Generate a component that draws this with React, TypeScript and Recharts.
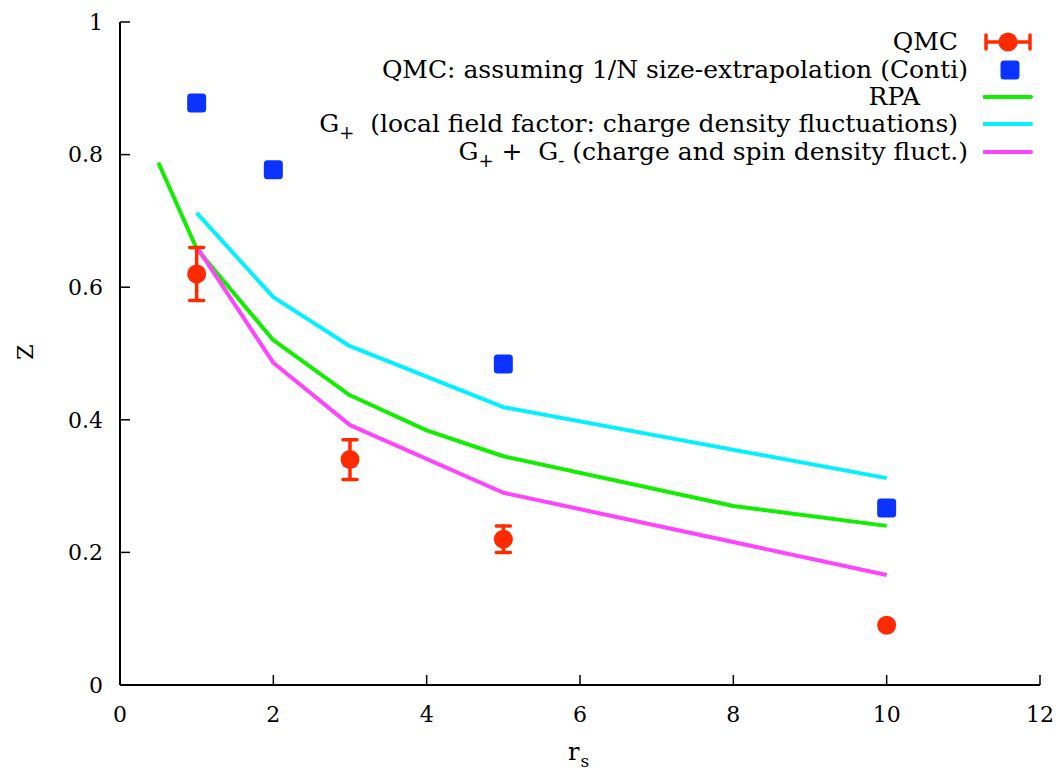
import React from 'react';
import { ComposedChart, Line, Scatter, XAxis, YAxis, ErrorBar } from 'recharts';

const xTicks = [0, 2, 4, 6, 8, 10, 12];
const yTicks = [0, 0.2, 0.4, 0.6, 0.8, 1];

const rpaX = [0.5, 1, 2, 3, 4, 5, 8, 10];
const rpaY = [0.788, 0.658, 0.52, 0.437, 0.384, 0.345, 0.27, 0.24];

const gPlusX = [1, 2, 3, 5, 10];
const gPlusY = [0.712, 0.585, 0.511, 0.419, 0.312];

const gPMX = [1, 2, 3, 5, 10];
const gPMY = [0.661, 0.486, 0.392, 0.29, 0.166];

const qmcX = [1, 3, 5, 10];
const qmcY = [0.62, 0.34, 0.22, 0.09];
const qmcErr = [0.04, 0.03, 0.02, 0];

const contiX = [1, 2, 5, 10];
const contiY = [0.878, 0.777, 0.484, 0.267];

const legendLabels = [
  'QMC',
  'QMC: assuming 1/N size-extrapolation (Conti)',
  'RPA',
  'G+ (local field factor: charge density fluctuations)',
  'G+ + G- (charge and spin density fluct.)',
];

const RED = '#ff2a00';
const BLUE = '#0b33ff';
const GREEN = '#11ee00';
const CYAN = '#00f2ff';
const MAGENTA = '#ff44ff';

const toPts = (xs: number[], ys: number[]) => xs.map((x, i) => ({ x, y: ys[i] }));

const rpaData = toPts(rpaX, rpaY);
const gPlusData = toPts(gPlusX, gPlusY);
const gPMData = toPts(gPMX, gPMY);
const qmcData = qmcX.map((x, i) => ({ x, y: qmcY[i], err: qmcErr[i] }));
const contiData = toPts(contiX, contiY);

const FONT = "'DejaVu Serif', serif";

const Dot = (p: any) => <circle cx={p.cx} cy={p.cy} r={9.5} fill={RED} />;
const Sq = (p: any) => (
  <rect x={p.cx - 9.5} y={p.cy - 9.5} width={19} height={19} rx={3.5} fill={BLUE} />
);

const Gsub = ({ s }: { s: string }) => (
  <span>
    G<sub style={{ fontSize: 18, verticalAlign: '-7px' }}>{s}</sub>
  </span>
);

const renderLabel = (i: number) => {
  if (i === 3)
    return (
      <>
        <Gsub s="+" />
        {'\u00a0\u00a0(local field factor: charge density fluctuations)'}
      </>
    );
  if (i === 4)
    return (
      <>
        <Gsub s="+" />
        {'\u00a0+\u00a0\u00a0'}
        <Gsub s="-" />
        {'\u00a0(charge and spin density fluct.)'}
      </>
    );
  return legendLabels[i];
};

const rowCY = [42, 70, 97, 124, 152];
const rowRight = [958, 968, 920, 958, 968];

const Symbol = ({ i }: { i: number }) => {
  const w = 52;
  const h = 28;
  const c = h / 2;
  if (i === 0)
    return (
      <svg width={w} height={h}>
        <line x1={3} y1={c} x2={47} y2={c} stroke={RED} strokeWidth={3.5} />
        <line x1={3} y1={c - 7} x2={3} y2={c + 7} stroke={RED} strokeWidth={3.5} strokeLinecap="round" />
        <line x1={47} y1={c - 7} x2={47} y2={c + 7} stroke={RED} strokeWidth={3.5} strokeLinecap="round" />
        <circle cx={25} cy={c} r={9.5} fill={RED} />
      </svg>
    );
  if (i === 1)
    return (
      <svg width={w} height={h}>
        <rect x={27 - 9.5} y={c - 9.5} width={19} height={19} rx={3.5} fill={BLUE} />
      </svg>
    );
  const col = [GREEN, CYAN, MAGENTA][i - 2];
  return (
    <svg width={w} height={h}>
      <line x1={1} y1={c} x2={48} y2={c} stroke={col} strokeWidth={4} strokeLinecap="round" />
    </svg>
  );
};

export default function App() {
  const W = 1056;
  const H = 771;
  return (
    <div style={{ position: 'absolute', left: 0, top: 0, width: W, height: H, background: '#fff', overflow: 'hidden' }}>
      <ComposedChart
        width={W}
        height={H}
        margin={{ top: 22, right: 16, bottom: 0, left: 0 }}
      >
        <XAxis
          dataKey="x"
          type="number"
          domain={[0, 12]}
          ticks={xTicks}
          interval={0}
          allowDataOverflow
          height={86}
          tickSize={-10}
          tickMargin={31}
          axisLine={{ stroke: '#000', strokeWidth: 2 }}
          tickLine={{ stroke: '#000', strokeWidth: 1.5 }}
          tick={{ fill: '#000', fontSize: 22, fontFamily: FONT }}
          label={{
            content: () => (
              <text x={568} y={760} fontFamily={FONT} fontSize={24} fill="#000">
                r
                <tspan dx={1} dy={7} fontSize={17}>
                  s
                </tspan>
              </text>
            ),
          }}
        />
        <YAxis
          type="number"
          domain={[0, 1]}
          ticks={yTicks}
          interval={0}
          width={120}
          tickSize={-10}
          tickMargin={27}
          axisLine={{ stroke: '#000', strokeWidth: 2 }}
          tickLine={{ stroke: '#000', strokeWidth: 1.5 }}
          tick={{ fill: '#000', fontSize: 22, fontFamily: FONT }}
          label={{
            content: () => (
              <text
                x={33}
                y={352}
                transform="rotate(-90 33 352)"
                textAnchor="middle"
                fontFamily={FONT}
                fontSize={22}
                fill="#000"
              >
                Z
              </text>
            ),
          }}
        />
        <Line data={rpaData} dataKey="y" type="linear" stroke={GREEN} strokeWidth={4} dot={false} isAnimationActive={false} strokeLinejoin="round" />
        <Line data={gPlusData} dataKey="y" type="linear" stroke={CYAN} strokeWidth={4} dot={false} isAnimationActive={false} strokeLinejoin="round" />
        <Line data={gPMData} dataKey="y" type="linear" stroke={MAGENTA} strokeWidth={4} dot={false} isAnimationActive={false} strokeLinejoin="round" />
        <Scatter data={contiData} dataKey="y" fill={BLUE} shape={Sq} isAnimationActive={false} />
        <Scatter data={qmcData} dataKey="y" fill={RED} shape={Dot} isAnimationActive={false}>
          <ErrorBar dataKey="err" direction="y" width={7} stroke={RED} strokeWidth={3.5} strokeLinecap="round" />
        </Scatter>
      </ComposedChart>
      {legendLabels.map((_, i) => (
        <React.Fragment key={i}>
          <div
            style={{
              position: 'absolute',
              right: W - rowRight[i],
              top: rowCY[i] - 16,
              height: 32,
              lineHeight: '32px',
              whiteSpace: 'nowrap',
              fontFamily: FONT,
              fontSize: 25,
              color: '#000',
            }}
          >
            {renderLabel(i)}
          </div>
          <div style={{ position: 'absolute', left: 983, top: rowCY[i] - 14, height: 28 }}>
            <Symbol i={i} />
          </div>
        </React.Fragment>
      ))}
    </div>
  );
}
